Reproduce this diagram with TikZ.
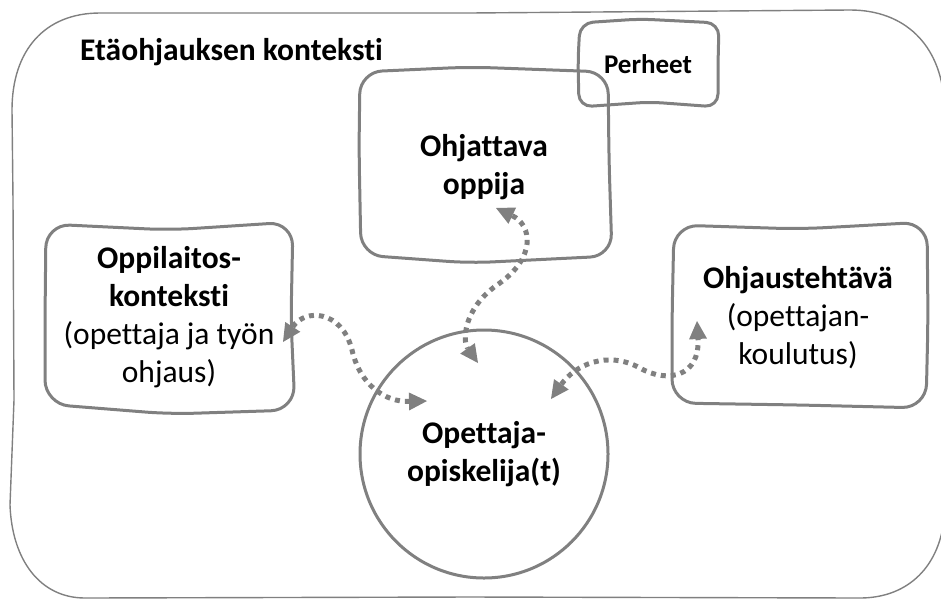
\documentclass[tikz,border=0pt]{standalone}
\usepackage{fontspec}
\setmainfont{Carlito}[Ligatures=NoCommon]
\usetikzlibrary{arrows.meta}
\definecolor{linegray}{RGB}{128,128,128}
\tikzset{
  boxline/.style={draw=linegray, line width=3pt, line join=round},
  frameline/.style={draw=linegray, line width=1.4pt},
  lbl/.style={align=center, inner sep=0pt, font=\fontsize{31.5}{38}\selectfont},
  conn/.style={draw=linegray, line width=5pt, dash pattern=on 5pt off 5pt,
    {Triangle[length=18pt,width=18pt,line width=0pt,fill=linegray]}-{Triangle[length=18pt,width=18pt,line width=0pt,fill=linegray]}},
}
\begin{document}
\begin{tikzpicture}[x=1pt,y=-1pt]
\useasboundingbox (0,0) rectangle (941,600);
% outer frame
\draw[frameline] (100,13) -- (470,13) -- (850,10) .. controls (905,10) and (940,45) .. (944,100) -- (944,520) .. controls (938,570) and (905,598) .. (860,598) -- (470,597) -- (85,598) .. controls (40,598) and (12,560) .. (10,505) -- (14,400) -- (13,200) -- (12,110) .. controls (12,50) and (45,13) .. (100,13) -- cycle;
\node[anchor=base west, inner sep=0pt, font=\fontsize{31.5}{38}\selectfont\bfseries] (title) at (80,60) {Etäohjauksen konteksti};
% box outlines
\draw[boxline, rounded corners=22pt] (359,150) -- (360,72) -- (470,67) -- (608,72) -- (609,160) -- (612,256) -- (470,263) -- (361,255) -- cycle;
\draw[boxline, rounded corners=13pt] (578,60) -- (580,23) -- (640,19) -- (719,23) -- (718,65) -- (718,107) -- (650,102) -- (579,107) -- cycle;
\draw[boxline, rounded corners=24pt] (45,320) -- (46,224) -- (170,230) -- (293,222) -- (291,320) -- (295,410) -- (170,414) -- (45,404) -- cycle;
\draw[boxline, rounded corners=24pt] (672,320) -- (674,225) -- (800,229) -- (927,222) -- (928,320) -- (926,408) -- (800,405) -- (672,403) -- cycle;
% labels
\node[lbl, font=\fontsize{31.5}{38}\selectfont\bfseries] (ohj) at (484,167) {Ohjattava\\oppija};
\node[anchor=base, inner sep=0pt, font=\fontsize{27}{32}\selectfont\bfseries] (per) at (648,73) {Perheet};
\node[lbl] (opp) at (169,317) {\textbf{Oppilaitos-}\\\textbf{konteksti}\\(opettaja ja työn\\ohjaus)};
\node[lbl] (teh) at (798,318) {\textbf{Ohjaustehtävä}\\(opettajan-\\koulutus)};
\node[lbl, font=\fontsize{31.5}{38}\selectfont\bfseries, circle, draw=linegray, line width=3pt, minimum size=248pt] (ope) at (484,454) {Opettaja-\\opiskelija(t)};
% connector end points
\coordinate (a1) at (283,342);
\coordinate (a2) at (427,401);
\coordinate (b1) at (496,208);
\coordinate (b2) at (478,363);
\coordinate (c1) at (551,399);
\coordinate (c2) at (697,321);
\draw[conn] (a1) .. controls (305,308) and (342,310) .. (352,350) .. controls (360,385) and (385,402) .. (a2);
\draw[conn] (b1) .. controls (532,225) and (537,258) .. (497,285) .. controls (462,310) and (463,342) .. (b2);
\draw[conn] (c1) .. controls (575,365) and (607,350) .. (640,368) .. controls (668,384) and (700,376) .. (c2);
\end{tikzpicture}
\end{document}
